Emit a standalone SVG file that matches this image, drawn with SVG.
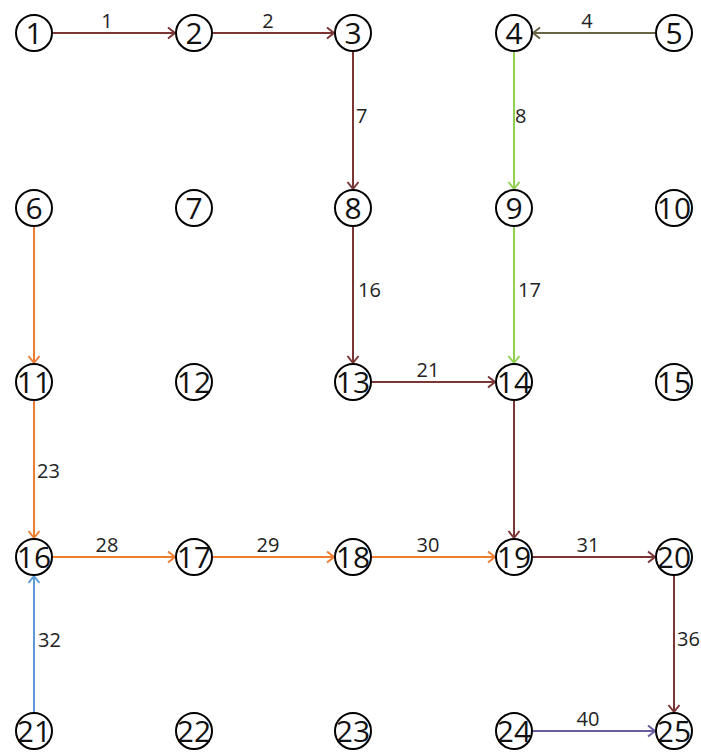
<svg xmlns="http://www.w3.org/2000/svg" width="701" height="753" viewBox="0 0 701 753">
<style>
.n circle{fill:#fff;stroke:#000;stroke-width:2}
.n text{font-family:"Open Sans","Noto Sans",sans-serif;font-size:30px;fill:#111;text-anchor:middle}
.lbl{font-family:"Open Sans","Noto Sans",sans-serif;font-size:20px;fill:#222}
.h{text-anchor:middle}
.e{fill:none;stroke-width:2}
.br{stroke:#7b3535}.ol{stroke:#6b6547}.gr{stroke:#92d050}.or{stroke:#ed7d31}.bl{stroke:#5b9bd5}.pu{stroke:#6a5a9e}
</style>
<defs>
<marker id="a-br" markerUnits="userSpaceOnUse" markerWidth="12" markerHeight="14" refX="0" refY="0" viewBox="-9 -7 10 14" orient="auto" overflow="visible"><path d="M-7,-5.5 L0,0 L-7,5.5" fill="none" stroke="#7b3535" stroke-width="2"/></marker>
<marker id="a-ol" markerUnits="userSpaceOnUse" markerWidth="12" markerHeight="14" refX="0" refY="0" viewBox="-9 -7 10 14" orient="auto" overflow="visible"><path d="M-7,-5.5 L0,0 L-7,5.5" fill="none" stroke="#6b6547" stroke-width="2"/></marker>
<marker id="a-gr" markerUnits="userSpaceOnUse" markerWidth="12" markerHeight="14" refX="0" refY="0" viewBox="-9 -7 10 14" orient="auto" overflow="visible"><path d="M-7,-5.5 L0,0 L-7,5.5" fill="none" stroke="#92d050" stroke-width="2"/></marker>
<marker id="a-or" markerUnits="userSpaceOnUse" markerWidth="12" markerHeight="14" refX="0" refY="0" viewBox="-9 -7 10 14" orient="auto" overflow="visible"><path d="M-7,-5.5 L0,0 L-7,5.5" fill="none" stroke="#ed7d31" stroke-width="2"/></marker>
<marker id="a-bl" markerUnits="userSpaceOnUse" markerWidth="12" markerHeight="14" refX="0" refY="0" viewBox="-9 -7 10 14" orient="auto" overflow="visible"><path d="M-7,-5.5 L0,0 L-7,5.5" fill="none" stroke="#5b9bd5" stroke-width="2"/></marker>
<marker id="a-pu" markerUnits="userSpaceOnUse" markerWidth="12" markerHeight="14" refX="0" refY="0" viewBox="-9 -7 10 14" orient="auto" overflow="visible"><path d="M-7,-5.5 L0,0 L-7,5.5" fill="none" stroke="#6a5a9e" stroke-width="2"/></marker>
</defs>
<g id="connectors">
<line class="e br" x1="53" y1="33" x2="175" y2="33" marker-end="url(#a-br)"/>
<line class="e br" x1="213" y1="33" x2="334" y2="33" marker-end="url(#a-br)"/>
<line class="e ol" x1="655" y1="33" x2="533" y2="33" marker-end="url(#a-ol)"/>
<line class="e br" x1="353" y1="52" x2="353" y2="189" marker-end="url(#a-br)"/>
<line class="e gr" x1="514" y1="52" x2="514" y2="189" marker-end="url(#a-gr)"/>
<line class="e br" x1="353" y1="227" x2="353" y2="363" marker-end="url(#a-br)"/>
<line class="e gr" x1="514" y1="227" x2="514" y2="363" marker-end="url(#a-gr)"/>
<line class="e br" x1="372" y1="382" x2="495" y2="382" marker-end="url(#a-br)"/>
<line class="e br" x1="514" y1="401" x2="514" y2="538" marker-end="url(#a-br)"/>
<line class="e or" x1="34" y1="227" x2="34" y2="363" marker-end="url(#a-or)"/>
<line class="e or" x1="34" y1="401" x2="34" y2="538" marker-end="url(#a-or)"/>
<line class="e or" x1="53" y1="557" x2="175" y2="557" marker-end="url(#a-or)"/>
<line class="e or" x1="213" y1="557" x2="334" y2="557" marker-end="url(#a-or)"/>
<line class="e or" x1="372" y1="557" x2="495" y2="557" marker-end="url(#a-or)"/>
<line class="e br" x1="533" y1="557" x2="655" y2="557" marker-end="url(#a-br)"/>
<line class="e br" x1="674" y1="576" x2="674" y2="712" marker-end="url(#a-br)"/>
<line class="e bl" x1="34" y1="712" x2="34" y2="576" marker-end="url(#a-bl)"/>
<line class="e pu" x1="533" y1="731" x2="655" y2="731" marker-end="url(#a-pu)"/>
<text class="lbl h" x="107" y="28">1</text>
<text class="lbl h" x="268" y="28">2</text>
<text class="lbl h" x="587" y="28">4</text>
<text class="lbl" x="356" y="123">7</text>
<text class="lbl" x="515" y="123">8</text>
<text class="lbl" x="358" y="297">16</text>
<text class="lbl" x="518" y="297">17</text>
<text class="lbl h" x="428" y="377">21</text>
<text class="lbl" x="37" y="478">23</text>
<text class="lbl h" x="107" y="552">28</text>
<text class="lbl h" x="268" y="552">29</text>
<text class="lbl h" x="428" y="552">30</text>
<text class="lbl h" x="588" y="552">31</text>
<text class="lbl" x="38" y="647">32</text>
<text class="lbl" x="677" y="646">36</text>
<text class="lbl h" x="588" y="726">40</text>
</g>
<g id="n1" class="n"><circle cx="34" cy="33" r="18"/><text x="34" y="44">1</text></g>
<g id="n2" class="n"><circle cx="194" cy="33" r="18"/><text x="194" y="44">2</text></g>
<g id="n3" class="n"><circle cx="353" cy="33" r="18"/><text x="353" y="44">3</text></g>
<g id="n4" class="n"><circle cx="514" cy="33" r="18"/><text x="514" y="44">4</text></g>
<g id="n5" class="n"><circle cx="674" cy="33" r="18"/><text x="674" y="44">5</text></g>
<g id="n6" class="n"><circle cx="34" cy="208" r="18"/><text x="34" y="219">6</text></g>
<g id="n7" class="n"><circle cx="194" cy="208" r="18"/><text x="194" y="219">7</text></g>
<g id="n8" class="n"><circle cx="353" cy="208" r="18"/><text x="353" y="219">8</text></g>
<g id="n9" class="n"><circle cx="514" cy="208" r="18"/><text x="514" y="219">9</text></g>
<g id="n10" class="n"><circle cx="674" cy="208" r="18"/><text x="674" y="219">10</text></g>
<g id="n11" class="n"><circle cx="34" cy="382" r="18"/><text x="34" y="393">11</text></g>
<g id="n12" class="n"><circle cx="194" cy="382" r="18"/><text x="194" y="393">12</text></g>
<g id="n13" class="n"><circle cx="353" cy="382" r="18"/><text x="353" y="393">13</text></g>
<g id="n14" class="n"><circle cx="514" cy="382" r="18"/><text x="514" y="393">14</text></g>
<g id="n15" class="n"><circle cx="674" cy="382" r="18"/><text x="674" y="393">15</text></g>
<g id="n16" class="n"><circle cx="34" cy="557" r="18"/><text x="34" y="568">16</text></g>
<g id="n17" class="n"><circle cx="194" cy="557" r="18"/><text x="194" y="568">17</text></g>
<g id="n18" class="n"><circle cx="353" cy="557" r="18"/><text x="353" y="568">18</text></g>
<g id="n19" class="n"><circle cx="514" cy="557" r="18"/><text x="514" y="568">19</text></g>
<g id="n20" class="n"><circle cx="674" cy="557" r="18"/><text x="674" y="568">20</text></g>
<g id="n21" class="n"><circle cx="34" cy="731" r="18"/><text x="34" y="742">21</text></g>
<g id="n22" class="n"><circle cx="194" cy="731" r="18"/><text x="194" y="742">22</text></g>
<g id="n23" class="n"><circle cx="353" cy="731" r="18"/><text x="353" y="742">23</text></g>
<g id="n24" class="n"><circle cx="514" cy="731" r="18"/><text x="514" y="742">24</text></g>
<g id="n25" class="n"><circle cx="674" cy="731" r="18"/><text x="674" y="742">25</text></g>
</svg>
